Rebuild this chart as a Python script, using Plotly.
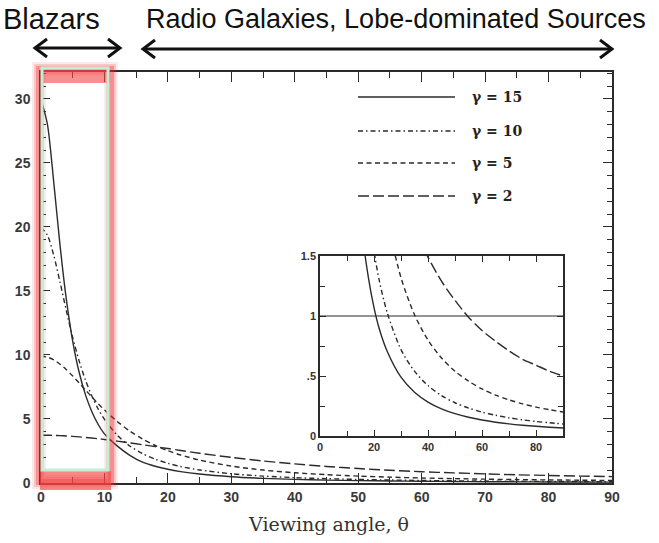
import plotly.graph_objects as go

# ---------------- data ----------------
theta = [0, 1, 2, 3, 4, 5, 6, 7, 8, 9, 10, 12, 14, 16, 18, 20, 22, 25, 30,
         35, 40, 45, 50, 55, 60, 65, 70, 75, 80, 85, 90]
gamma15 = [29.96, 28.05, 23.54, 18.56, 14.32, 11.07, 8.67, 6.90, 5.59, 4.59, 3.84,
           2.90, 2.16, 1.63, 1.31, 1.07, 0.89, 0.70, 0.49, 0.365, 0.283, 0.226,
           0.186, 0.156, 0.133, 0.115, 0.101, 0.090, 0.081, 0.073, 0.067]
gamma10 = [19.95, 19.36, 17.80, 15.68, 13.45, 11.36, 9.56, 8.05, 6.81, 5.79, 4.97,
           3.74, 2.89, 2.30, 1.86, 1.54, 1.29, 1.02, 0.72, 0.54, 0.42, 0.337,
           0.277, 0.233, 0.199, 0.173, 0.152, 0.135, 0.121, 0.110, 0.100]
gamma5 = [9.90, 9.83, 9.62, 9.28, 8.85, 8.36, 7.82, 7.27, 6.73, 6.20, 5.70,
          4.81, 4.06, 3.44, 2.93, 2.52, 2.19, 1.79, 1.32, 1.01, 0.80, 0.65,
          0.54, 0.457, 0.392, 0.341, 0.301, 0.268, 0.241, 0.219, 0.200]
gamma2 = [3.73, 3.73, 3.72, 3.70, 3.67, 3.64, 3.60, 3.56, 3.51, 3.46, 3.40,
          3.27, 3.13, 2.99, 2.84, 2.69, 2.54, 2.32, 2.00, 1.72, 1.49, 1.29,
          1.13, 0.99, 0.88, 0.79, 0.71, 0.64, 0.59, 0.54, 0.50]

series_labels = ["γ = 15", "γ = 10", "γ = 5", "γ = 2"]
series_values = [gamma15, gamma10, gamma5, gamma2]
dashes = ["solid", "5px,3px,1.5px,3px", "5px,3.5px", "11px,4px"]

main_ytick = [0, 5, 10, 15, 20, 25, 30]
inset_ytick = [0, 0.5, 1, 1.5]
inset_ytext = ["0", ".5", "1", "1.5"]
header_left = "Blazars"
header_right = "Radio Galaxies, Lobe-dominated Sources"
x_title = "Viewing angle, θ"

# ---------------- geometry helpers ----------------
W, H = 659, 543
L, R, T, B = 41, 612, 72, 483


def px(x):
    return (x - L) / (R - L)


def py(y):
    return (B - y) / (B - T)


INK = "#2b2b2b"

fig = go.Figure()

for vals, dash in zip(series_values, dashes):
    fig.add_trace(go.Scatter(x=theta, y=vals, mode="lines",
                             line=dict(color=INK, width=1.4, dash=dash, shape="spline", smoothing=0.8),
                             xaxis="x", yaxis="y", showlegend=False, hoverinfo="skip"))
    fig.add_trace(go.Scatter(x=theta, y=vals, mode="lines",
                             line=dict(color=INK, width=1.4, dash=dash, shape="spline", smoothing=0.8),
                             xaxis="x2", yaxis="y2", showlegend=False, hoverinfo="skip"))

tickfont_main = dict(family="Arial", size=14, color="#3a3a3a", weight="bold")
tickfont_inset = dict(family="Arial", size=11, color="#333333", weight="bold")

axis_common = dict(showgrid=False, zeroline=False, showline=True, linecolor=INK,
                   linewidth=1.5, mirror="allticks", ticks="inside", tickcolor=INK,
                   tickwidth=1.3)

fig.update_layout(
    width=W, height=H,
    margin=dict(l=L, r=W - R, t=T, b=H - B),
    paper_bgcolor="white", plot_bgcolor="white",
    xaxis=dict(domain=[0, 1], range=[0, 90], tick0=0, dtick=10, ticklen=10,
               tickfont=tickfont_main, anchor="y",
               minor=dict(tick0=0, dtick=5, ticklen=6, ticks="inside", tickcolor=INK, tickwidth=1.2),
               **axis_common),
    yaxis=dict(domain=[0, 1], range=[0, 32.1], tickvals=main_ytick, ticklen=9,
               tickfont=tickfont_main, anchor="x", ticklabelstandoff=6,
               minor=dict(tick0=0, dtick=1, ticklen=5, ticks="inside", tickcolor=INK, tickwidth=1.2),
               **axis_common),
    xaxis2=dict(domain=[px(320), px(563)], range=[0, 90], tick0=0, dtick=20, ticklen=6,
                tickfont=tickfont_inset, anchor="y2",
                minor=dict(tick0=0, dtick=10, ticklen=5, ticks="inside", tickcolor=INK, tickwidth=1.1),
                **axis_common),
    yaxis2=dict(domain=[py(436), py(256)], range=[0, 1.5], tickvals=inset_ytick,
                ticktext=inset_ytext, ticklen=6, tickfont=tickfont_inset, anchor="x2",
                minor=dict(tick0=0, dtick=0.25, ticklen=5, ticks="inside", tickcolor=INK, tickwidth=1.1),
                **axis_common),
)

shapes = []
# inset line at 1
shapes.append(dict(type="line", xref="x2", yref="y2", x0=0, x1=90, y0=1, y1=1,
                   line=dict(color=INK, width=1.2)))

# legend
leg_y = [97, 131, 163, 196]
annotations = []
for lab, dash, yy in zip(series_labels, dashes, leg_y):
    shapes.append(dict(type="line", xref="paper", yref="paper", x0=px(358), x1=px(455),
                       y0=py(yy), y1=py(yy), line=dict(color=INK, width=1.4, dash=dash)))
    annotations.append(dict(xref="paper", yref="paper", x=px(470), y=py(yy), text=lab,
                            showarrow=False, xanchor="left", yanchor="middle",
                            font=dict(family="DejaVu Serif", size=14, color="#222", weight="bold")))

# highlight box (red glow + green inner border)
for w, a in [(14, 0.10), (10, 0.18), (6, 0.35)]:
    shapes.append(dict(type="rect", xref="paper", yref="paper", x0=px(39), x1=px(111),
                       y0=py(482), y1=py(69), line=dict(color=f"rgba(240,40,40,{a})", width=w),
                       layer="above"))
shapes.append(dict(type="rect", xref="paper", yref="paper", x0=px(41), x1=px(110),
                   y0=py(83), y1=py(70), fillcolor="rgba(245,70,70,0.6)", line=dict(width=0),
                   layer="above"))
shapes.append(dict(type="rect", xref="paper", yref="paper", x0=px(40), x1=px(111),
                   y0=py(490), y1=py(471), fillcolor="rgba(245,70,70,0.65)", line=dict(width=0),
                   layer="above"))
shapes.append(dict(type="rect", xref="paper", yref="paper", x0=px(42), x1=px(108),
                   y0=py(470), y1=py(68), line=dict(color="#bff0d6", width=3), layer="above"))

# header arrows
def arrow(x0, x1, y):
    out = [dict(type="line", xref="paper", yref="paper", x0=px(x0 + 1), x1=px(x1 - 1),
                y0=py(y), y1=py(y), line=dict(color="#111", width=3))]
    for tip, d in [(x0, 1), (x1, -1)]:
        path = (f"M {px(tip + d * 12)},{py(y - 9)} L {px(tip)},{py(y)} "
                f"L {px(tip + d * 12)},{py(y + 9)}")
        out.append(dict(type="path", xref="paper", yref="paper", path=path,
                        line=dict(color="#111", width=3)))
    return out

shapes += arrow(35, 120, 48)
shapes += arrow(143, 612, 49)

annotations.append(dict(xref="paper", yref="paper", x=px(1), y=py(19), text=header_left,
                        showarrow=False, xanchor="left", yanchor="middle",
                        font=dict(family="Arial", size=29, color="#111")))
annotations.append(dict(xref="paper", yref="paper", x=px(144), y=py(19), text=header_right,
                        showarrow=False, xanchor="left", yanchor="middle",
                        font=dict(family="Arial", size=27, color="#111")))
annotations.append(dict(xref="paper", yref="paper", x=px(328), y=py(524), text=x_title,
                        showarrow=False, xanchor="center", yanchor="middle",
                        font=dict(family="DejaVu Serif", size=19, color="#333")))

fig.update_layout(shapes=shapes, annotations=annotations)
fig.write_html("out.html")
